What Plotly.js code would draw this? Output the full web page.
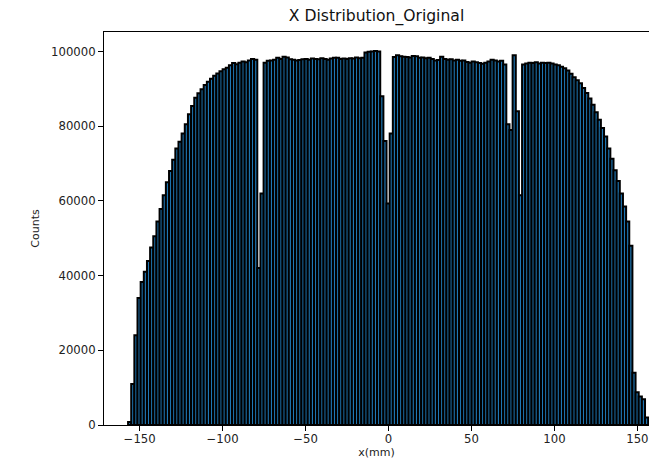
<!DOCTYPE html>
<html>
<head>
<meta charset="utf-8">
<script src="https://cdn.plot.ly/plotly-3.0.1.min.js"></script>
<style>html,body{margin:0;padding:0;background:#fff;}#chart{width:649px;height:459px;}</style>
</head>
<body>
<div id="chart"></div>
<script>
// Histogram of x positions (bin start and bin width in mm)
const binStart = -157;
const binWidth = 1.9;
const counts = [
  800, 11000, 24000, 34000, 38300, 41000, 43900, 47500, 50500, 54500,
  57800, 61500, 65000, 68000, 71000, 74000, 75800, 78000, 80500, 83200,
  85400, 87600, 88800, 89900, 91000, 91900, 92700, 93500, 94100, 94700,
  95200, 95600, 96300, 96900, 96600, 97000, 97300, 97100, 97600, 98000,
  97800, 42000, 62000, 97000, 97500, 97600, 97800, 98300, 98000, 98600,
  98400, 97900, 97800, 97600, 97700, 97900, 98000, 97800, 98100, 98000,
  97900, 98200, 98000, 97800, 98100, 98300, 98300, 98000, 98100, 98000,
  98200, 98100, 98400, 98200, 98300, 99700, 99900, 100000, 100100, 100000,
  88000, 76000, 59300, 78000, 98500, 99000, 98700, 98600, 98500, 98400,
  98800, 98700, 98300, 98400, 98200, 98300, 98000, 97600, 97700, 98600,
  98000, 97800, 97900, 97600, 97800, 97500, 97600, 97200, 97000, 97300,
  97100, 96900, 96700, 97000, 97300, 97800, 97600, 97300, 97500, 96500,
  80500, 79000, 99000, 84000, 61500, 96500, 96800, 97000, 96900, 97100,
  96800, 97000, 96900, 97000, 96800, 96500, 96300, 95900, 95500, 94900,
  94000, 93100, 92300, 91500, 90200, 88900, 87400, 85700, 83700, 81700,
  79500, 77200, 74000, 71300, 68200, 65300, 62000, 58500, 54500, 48000,
  14000, 8800, 7600, 6900, 2000
];
const xTickVals = [-150, -100, -50, 0, 50, 100, 150];
const yTickVals = [0, 20000, 40000, 60000, 80000, 100000];
const yTickText = ['0', '20000', '40000', '60000', '80000', '100000'];

const trace = {
  type: 'bar',
  x0: binStart + binWidth / 2,
  dx: binWidth,
  y: counts,
  marker: {color: '#1f77b4', line: {color: '#000000', width: 2}},
  hoverinfo: 'x+y'
};

const layout = {
  width: 649, height: 459,
  margin: {l: 104, r: 0, t: 32, b: 34, pad: 0},
  paper_bgcolor: '#ffffff', plot_bgcolor: '#ffffff',
  bargap: 0,
  showlegend: false,
  font: {family: 'DejaVu Sans', size: 11.7, color: '#222'},
  title: {text: 'X Distribution_Original', font: {family: 'DejaVu Sans', size: 15.6, color: '#111'},
          x: 0.5, xref: 'paper', xanchor: 'center', y: 1, yref: 'container', yanchor: 'top', pad: {t: 10}},
  xaxis: {
    range: [-171.5, 157.0], autorange: false,
    tickvals: xTickVals, ticks: 'outside', ticklen: 5, tickwidth: 1, tickcolor: '#000',
    ticklabelstandoff: -2,
    showline: true, linecolor: '#000', linewidth: 1, mirror: true,
    showgrid: false, zeroline: false,
    tickfont: {family: 'DejaVu Sans', size: 11.7, color: '#222'},
    title: {text: 'x(mm)', font: {family: 'DejaVu Sans', size: 11, color: '#222'}, standoff: 6}
  },
  yaxis: {
    range: [0, 105200], autorange: false,
    tickvals: yTickVals, ticktext: yTickText, ticks: 'outside', ticklen: 5, tickwidth: 1, tickcolor: '#000',
    showline: true, linecolor: '#000', linewidth: 1, mirror: false,
    showgrid: false, zeroline: false,
    tickfont: {family: 'DejaVu Sans', size: 11.7, color: '#222'},
    title: {text: 'Counts', font: {family: 'DejaVu Sans', size: 11, color: '#222'}, standoff: 9}
  }
};

Plotly.newPlot('chart', [trace], layout, {displayModeBar: false, staticPlot: true});
</script>
</body>
</html>
